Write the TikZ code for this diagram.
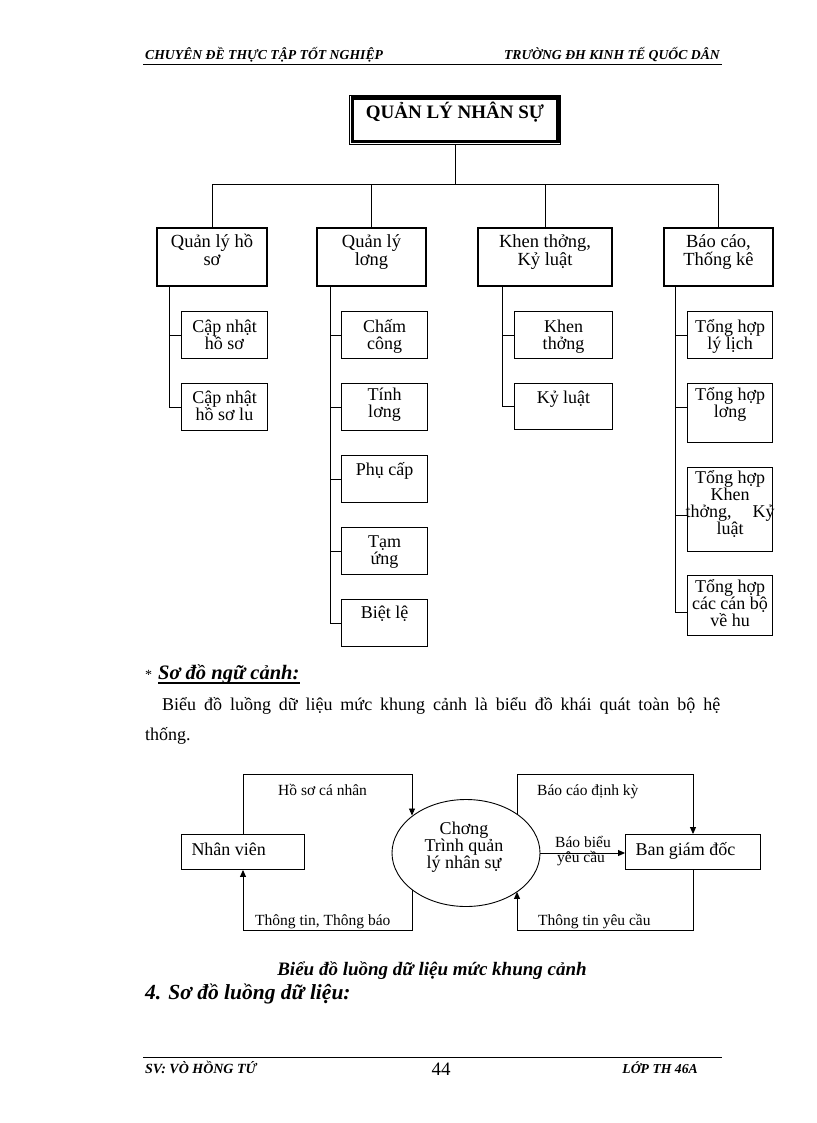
\documentclass[tikz,border=0pt]{standalone}
\usepackage{fontspec}
\setmainfont{Liberation Serif}
\usetikzlibrary{shapes.geometric,arrows.meta}
\newcommand\bxt[4]{\parbox[c][#2][t]{#1}{\centering\rule{0pt}{#3}#4\par}}
\newcommand\lbx[4]{\parbox[c][#2][t]{#1}{\hspace*{#3}\rule{0pt}{20.5pt}#4\par}}
\newcommand\tightls{\lineskiplimit-100pt\relax}
\begin{document}
\begin{tikzpicture}[x=1pt,y=-1pt,
  lvltwo/.style={draw,line width=1.8pt,inner sep=0pt,font={\fontsize{18.5}{18}\selectfont\tightls}},
  subbox/.style={draw,line width=0.9pt,inner sep=0pt,font={\fontsize{18}{17}\selectfont\tightls}},
  conn/.style={line width=0.9pt},
  arr/.style={line width=0.9pt,-{Triangle[length=7pt,width=6pt]}},
  cbox/.style={draw,line width=0.9pt,inner sep=0pt,font={\fontsize{18}{18}\selectfont}},
  lbl/.style={inner sep=0pt,font={\fontsize{15.5}{16}\selectfont}},
  hdr/.style={inner sep=0pt,font={\bfseries\itshape\fontsize{13.7}{14}\selectfont}},
  txt/.style={inner sep=0pt}]
\useasboundingbox[fill=white] (0,0) rectangle (816,1123);

% header / footer
\node[hdr,anchor=base west] (h1) at (145,60) {CHUYÊN ĐỀ THỰC TẬP TỐT NGHIỆP};
\node[hdr,anchor=base east] (h2) at (720,60) {TRƯỜNG ĐH KINH TẾ QUỐC DÂN};
\draw[line width=0.6pt] (143,64.5) -- (722,64.5);
\draw[line width=0.6pt] (143,1057) -- (722,1057);
\node[hdr,anchor=base west,font={\bfseries\itshape\fontsize{14}{14}\selectfont}] (f1) at (145,1073) {SV: VÒ HỒNG TỨ};
\node[txt,anchor=base,font={\fontsize{19}{19}\selectfont}] (f2) at (441,1075) {44};
\node[hdr,anchor=base east] (f3) at (698,1073) {LỚP TH 46A};

% top box
\node[draw,line width=0.8pt,inner sep=0pt,font={\bfseries\fontsize{19}{19}\selectfont}] (top) at (455,120)
  {\bxt{211pt}{49pt}{23.5pt}{QUẢN LÝ NHÂN SỰ}};
\draw[line width=3.2pt] ([shift={(3pt,-3pt)}]top.north west) rectangle ([shift={(-3pt,3pt)}]top.south east);

% level 2
\node[lvltwo] (b1) at (212,257) {\bxt{110pt}{58pt}{19pt}{Quản lý hồ\\sơ}};
\node[lvltwo] (b2) at (371.5,257) {\bxt{109pt}{58pt}{19pt}{Quản lý\\lơng}};
\node[lvltwo] (b3) at (545,257) {\bxt{134pt}{58pt}{19pt}{Khen thởng,\\Kỷ luật}};
\node[lvltwo] (b4) at (718.5,257) {\bxt{109pt}{58pt}{19pt}{Báo cáo,\\Thống kê}};

\coordinate (bus) at (455,184);
\draw[conn] (top.south) -- (top.south |- bus);
\draw[conn] (b1.north) -- (b1.north |- bus) -- (b4.north |- bus) -- (b4.north);
\draw[conn] (b2.north) -- (b2.north |- bus);
\draw[conn] (b3.north) -- (b3.north |- bus);

% level 3
\node[subbox] (s11) at (224.5,335) {\bxt{86pt}{47pt}{21pt}{Cập nhật\\hồ sơ}};
\node[subbox] (s12) at (224.5,407) {\bxt{86pt}{47pt}{20pt}{Cập nhật\\hồ sơ lu}};

\node[subbox] (s21) at (384.5,335) {\bxt{86pt}{47pt}{21pt}{Chấm\\công}};
\node[subbox] (s22) at (384.5,407) {\bxt{86pt}{47pt}{17pt}{Tính\\lơng}};
\node[subbox] (s23) at (384.5,479) {\bxt{86pt}{47pt}{20pt}{Phụ cấp}};
\node[subbox] (s24) at (384.5,551) {\bxt{86pt}{47pt}{20pt}{Tạm\\ứng}};
\node[subbox] (s25) at (384.5,623) {\bxt{86pt}{47pt}{19pt}{Biệt lệ}};

\node[subbox] (s31) at (563.5,335) {\bxt{98pt}{47pt}{21pt}{Khen\\thởng}};
\node[subbox] (s32) at (563.5,406.5) {\bxt{98pt}{46pt}{20pt}{Kỷ luật}};

\node[subbox] (s41) at (730,335) {\bxt{85pt}{47pt}{21pt}{Tổng hợp\\lý lịch}};
\node[subbox] (s42) at (730,413) {\bxt{85pt}{59pt}{17pt}{Tổng hợp\\lơng}};
\node[subbox,font={\fontsize{18}{16.3}\selectfont\tightls}] (s43) at (730,509.5)
  {\bxt{85pt}{84pt}{16pt}{Tổng hợp\\Khen\\\makebox[85pt]{\makebox[89pt]{thởng,\hfill Kỷ}}\\luật}};
\node[subbox,font={\fontsize{18}{16}\selectfont\tightls}] (s44) at (730,605.5)
  {\bxt{85pt}{60pt}{17pt}{Tổng hợp\\các cán bộ\\về hu}};

\coordinate (k1) at (169,286);
\coordinate (k2) at (330,286);
\coordinate (k3) at (502,286);
\coordinate (k4) at (675,286);
\draw[conn] (k1) |- (s11.west);
\draw[conn] (k1) |- (s12.west);
\draw[conn] (k2) |- (s21.west);
\draw[conn] (k2) |- (s22.west);
\draw[conn] (k2) |- (s23.west);
\draw[conn] (k2) |- (s24.west);
\draw[conn] (k2) |- (s25.west);
\draw[conn] (k3) |- (s31.west);
\draw[conn] (k3) |- (s32.west);
\draw[conn] (k4) |- (s41.west);
\draw[conn] (k4) |- ([yshift=6pt]s42.west);
\draw[conn] (k4) |- ([yshift=-5.5pt]s43.west);
\draw[conn] (k4) |- ([yshift=-6.5pt]s44.west);

% section text
\node[txt,anchor=base west,font={\fontsize{14}{14}\selectfont}] (star) at (145,679) {*};
\node[txt,anchor=base west,font={\bfseries\itshape\fontsize{20.5}{21}\selectfont}] (hd) at (158,679) {Sơ đồ ngữ cảnh:};
\draw[line width=1.6pt] ([yshift=-4pt]hd.base west) -- ([yshift=-4pt]hd.base east);
\node[txt,anchor=base west,font={\fontsize{18}{18}\selectfont}] (para1) at (162,710)
  {\makebox[558pt][s]{Biểu  đồ luồng  dữ liệu  mức khung  cảnh là  biểu  đồ khái  quát toàn bộ hệ}};
\node[txt,anchor=base west,font={\fontsize{18}{18}\selectfont}] (para2) at (145,740) {thống.};

% context diagram
\node[cbox] (nv) at (243,852) {\lbx{123pt}{35pt}{10pt}{Nhân viên}};
\node[cbox] (bgd) at (693,852) {\lbx{135pt}{35pt}{10pt}{Ban giám đốc}};
\node[draw,ellipse,line width=0.9pt,inner sep=0pt,minimum width=148pt,minimum height=107pt] (el) at (466,853) {};
\node[txt,anchor=base,font={\fontsize{18}{16}\selectfont\tightls}] (elt) at (464,834)
  {\parbox[t]{110pt}{\centering Chơng\\Trình quản\\lý nhân sự}};

\coordinate (p1) at (243,774);
\coordinate (p2) at (412,774);
\coordinate (p3) at (517,774);
\coordinate (p4) at (693,774);
\coordinate (q1) at (243,930);
\coordinate (q2) at (412,930);
\coordinate (q3) at (517,930);
\coordinate (q4) at (693,930);
\draw[arr] (nv.north) -- (p1) -- (p2) -- (p2 |- el.145.6);
\draw[arr] (p3 |- el.37.3) -- (p3) -- (p4) -- (bgd.north);
\draw[arr] (el.east) -- (el.east -| bgd.west);
\draw[arr] (q2 |- el.-145.6) -- (q2) -- (q1) -- (nv.south);
\draw[arr] (bgd.south) -- (q4) -- (q3) -- (q3 |- el.-37.3);

\node[lbl,anchor=base west] (l1) at (278,795) {Hồ sơ cá nhân};
\node[lbl,anchor=base west] (l2) at (255,925) {Thông tin, Thông báo};
\node[lbl,anchor=base west] (l3) at (537,795) {Báo cáo định kỳ};
\node[lbl,anchor=base west] (l4) at (538,925) {Thông tin yêu cầu};
\node[lbl,anchor=base] (l5) at (583,847) {Báo biểu};
\node[lbl,anchor=base] (l6) at (581,862) {yêu cầu};

% caption
\node[txt,anchor=base,font={\bfseries\itshape\fontsize{19}{19}\selectfont}] (cap) at (432,975) {Biểu đồ luồng dữ liệu mức khung cảnh};
\node[txt,anchor=base west,font={\bfseries\itshape\fontsize{21.5}{22}\selectfont}] (sec) at (145,999) {4. Sơ đồ luồng dữ liệu:};
\end{tikzpicture}
\end{document}
